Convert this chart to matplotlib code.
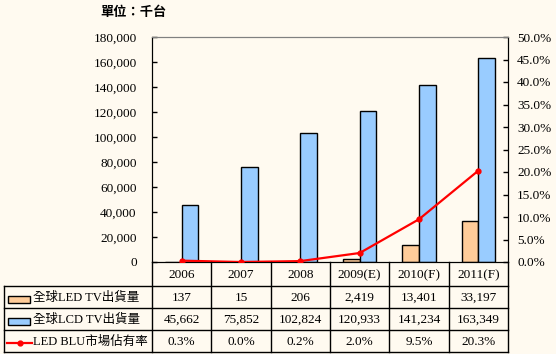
import numpy as np
import matplotlib.pyplot as plt
from matplotlib.patches import Rectangle
from matplotlib.lines import Line2D

plt.rcParams['font.family'] = ['Liberation Serif', 'Noto Sans CJK TC']

# 資料
anos = ['2006', '2007', '2008', '2009(E)', '2010(F)', '2011(F)']
led_tv = [137, 15, 206, 2419, 13401, 33197]
lcd_tv = [45662, 75852, 102824, 120933, 141234, 163349]
led_blu = [0.3, 0.0, 0.2, 2.0, 9.5, 20.3]
serie_nomes = ['全球LED TV出貨量', '全球LCD TV出貨量', 'LED BLU市場佔有率']

fundo = '#FFFAF0'
cor_led = '#FFCC99'
cor_lcd = '#99CCFF'
cor_linha = '#FF0000'

W, H = 556, 354
fig = plt.figure(figsize=(W / 100, H / 100), dpi=100, facecolor=fundo)

# area do grafico em pixels
x0, x1, y0, y1 = 152, 508, 37, 262
ax = fig.add_axes([x0 / W, 1 - y1 / H, (x1 - x0) / W, (y1 - y0) / H])
ax.set_facecolor(fundo)
ax2 = ax.twinx()

x = np.arange(len(anos))
w = 0.28
ax.bar(x - w / 2, led_tv, w, color=cor_led, edgecolor='black', linewidth=1, zorder=2)
ax.bar(x + w / 2, lcd_tv, w, color=cor_lcd, edgecolor='black', linewidth=1, zorder=2)
ax2.plot(x, led_blu, color=cor_linha, lw=1.6, marker='o', markersize=3.5, zorder=3)

ax.set_xlim(-0.5, len(anos) - 0.5)
ax.set_ylim(0, 180000)
ax.set_yticks(np.arange(0, 180001, 20000))
ax.set_yticklabels([f'{v:,}' for v in range(0, 180001, 20000)], fontsize=9.5)
ax2.set_ylim(0, 50)
ax2.set_yticks(np.arange(0, 50.1, 5))
ax2.set_yticklabels([f'{v:.1f}%' for v in np.arange(0, 50.1, 5)], fontsize=9.5)
ax.set_xticks([])
ax.tick_params(axis='y', direction='in', length=3.5, width=1, pad=11, colors='black')
ax2.tick_params(axis='y', direction='in', length=3.5, width=1, pad=6.5, colors='black')
for a in (ax, ax2):
    a.spines['top'].set_color('#808080')
    for s in ('left', 'right', 'bottom'):
        a.spines[s].set_color('black')


# tabela de dados (desenhada em pixels da figura)
def fpx(px, py):
    return px / W, 1 - py / H


def linha(xa, ya, xb, yb):
    (a, b), (c, d) = fpx(xa, ya), fpx(xb, yb)
    fig.add_artist(Line2D([a, c], [b, d], color='black', lw=1))


bordas_y = [262, 286, 308, 330, 352]
col_w = (x1 - x0) / len(anos)
bordas_x = [x0 + i * col_w for i in range(len(anos) + 1)]

for yy in bordas_y[1:]:
    linha(4, yy, x1, yy)
for xx in bordas_x:
    linha(xx, bordas_y[0], xx, bordas_y[-1])
linha(4, bordas_y[1], 4, bordas_y[-1])

cell_text = [[f'{v:,}' for v in led_tv],
             [f'{v:,}' for v in lcd_tv],
             [f'{v:.1f}%' for v in led_blu]]

for i, ano in enumerate(anos):
    cx = (bordas_x[i] + bordas_x[i + 1]) / 2
    fig.text(*fpx(cx, (bordas_y[0] + bordas_y[1]) / 2 + 1), ano, ha='center',
             va='center', fontsize=9.5)
    for r in range(3):
        cy = (bordas_y[r + 1] + bordas_y[r + 2]) / 2 + 1
        fig.text(*fpx(cx, cy), cell_text[r][i], ha='center', va='center', fontsize=9.5)

for r, nome in enumerate(serie_nomes):
    cy = (bordas_y[r + 1] + bordas_y[r + 2]) / 2 + 1
    fig.text(*fpx(33, cy), nome, ha='left', va='center', fontsize=9)

# icones da legenda
for cy, cor in ((299.5, cor_led), (321.5, cor_lcd)):
    a, b = fpx(8, cy + 3.5)
    fig.add_artist(Rectangle((a, b), 22 / W, 7 / H, facecolor=cor, edgecolor='black',
                             lw=1, transform=fig.transFigure))
a, b = fpx(7, 343)
c, d = fpx(32, 343)
fig.add_artist(Line2D([a, c], [b, b], color=cor_linha, lw=1.6))
fig.add_artist(Line2D([(a + c) / 2], [b], color=cor_linha, marker='o', markersize=3.5))

fig.text(*fpx(133, 13), '單位：千台', ha='center', va='center', fontsize=9.5,
         fontweight='bold')

fig.savefig('out.png', dpi=100, facecolor=fundo)
